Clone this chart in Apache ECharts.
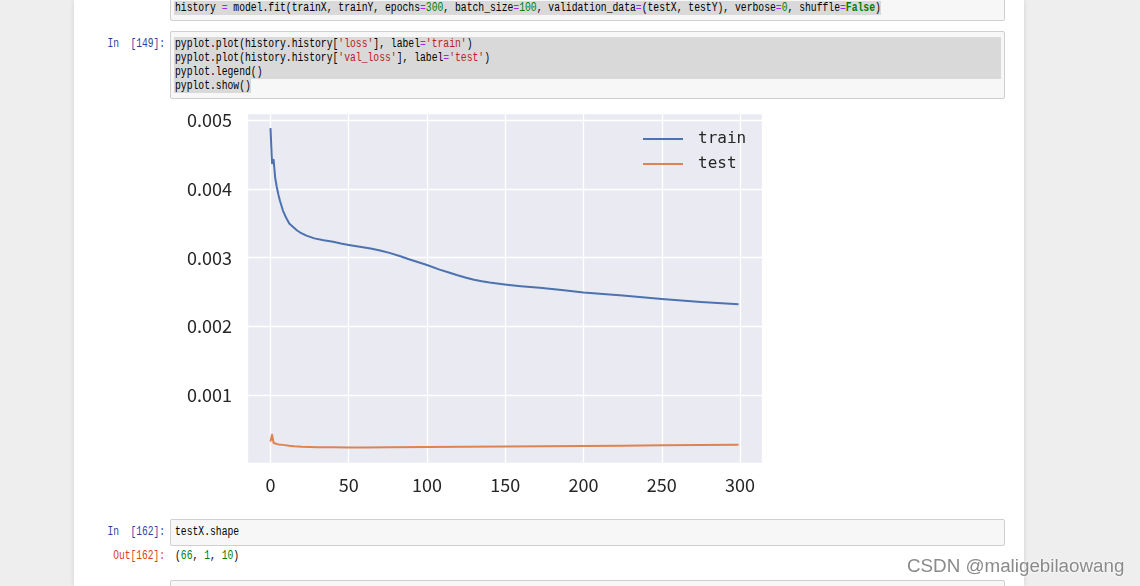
<!DOCTYPE html>
<html>
<head>
<meta charset="utf-8">
<script src="https://cdn.jsdelivr.net/npm/echarts@6/dist/echarts.min.js"></script>
<style>
  html, body { margin:0; padding:0; }
  body { width:1140px; height:586px; overflow:hidden; background:#eeeeee; position:relative; font-family:"Liberation Mono", monospace; }
  .nb { position:absolute; left:74px; top:0; width:950px; height:586px; background:#ffffff; box-shadow:0 0 5px rgba(0,0,0,0.12); }
  .box { position:absolute; left:170px; width:833px; border:1px solid #cfcfcf; background:#f7f7f7; border-radius:2px; }
  .hl { position:absolute; background:#d9d9d9; }
  .code { position:absolute; left:175px; height:14px; line-height:14px; font-size:12px; color:#000; white-space:pre; transform:scaleX(0.81); transform-origin:0 50%; }
  .prompt { position:absolute; width:200px; left:-35px; text-align:right; height:14px; line-height:14px; font-size:12px; white-space:pre; transform:scaleX(0.80); transform-origin:100% 50%; }
  .in { color:#303F9F; }
  .out { color:#D84315; }
  .o { color:#AA22FF; }
  .n { color:#008000; }
  .s { color:#BA2121; }
  .k { color:#008000; font-weight:bold; }
  #chart { position:absolute; left:0; top:0; width:1140px; height:586px; pointer-events:none; }
  .wm { position:absolute; left:907px; top:555px; font-family:"Liberation Sans", Arial, sans-serif; font-size:18.8px; color:#8a8a8a; white-space:pre; text-shadow:0 0 2px #fff, 0 0 2px #fff; }
</style>
</head>
<body>
<div class="nb"></div>

<div class="box" style="top:-30px;height:49px;"></div>
<div class="hl" style="left:174px;top:1px;width:707px;height:14px;"></div>
<div class="code" style="top:1px;">history <span class="o">=</span> model.fit(trainX, trainY, epochs<span class="o">=</span><span class="n">300</span>, batch_size<span class="o">=</span><span class="n">100</span>, validation_data<span class="o">=</span>(testX, testY), verbose<span class="o">=</span><span class="n">0</span>, shuffle<span class="o">=</span><span class="k">False</span>)</div>

<div class="box" style="top:31px;height:66px;"></div>
<div class="hl" style="left:174px;top:37px;width:827px;height:42px;"></div>
<div class="hl" style="left:174px;top:79px;width:77px;height:14px;"></div>
<div class="prompt in" style="top:37px;">In  [149]:</div>
<div class="code" style="top:37px;">pyplot.plot(history.history[<span class="s">'loss'</span>], label<span class="o">=</span><span class="s">'train'</span>)</div>
<div class="code" style="top:51px;">pyplot.plot(history.history[<span class="s">'val_loss'</span>], label<span class="o">=</span><span class="s">'test'</span>)</div>
<div class="code" style="top:65px;">pyplot.legend()</div>
<div class="code" style="top:79px;">pyplot.show()</div>

<div class="box" style="top:519px;height:25px;"></div>
<div class="prompt in" style="top:525px;">In  [162]:</div>
<div class="code" style="top:525px;">testX.shape</div>
<div class="prompt out" style="top:549px;">Out[162]:</div>
<div class="code" style="top:549px;">(<span class="n">66</span>, <span class="n">1</span>, <span class="n">10</span>)</div>

<div class="box" style="top:580px;height:30px;"></div>

<div id="chart"></div>
<div class="wm">CSDN @maligebilaowang</div>

<script>
// ---- data ----
const seriesNames = ['train', 'test'];
const trainEpochs = [0, 1, 2, 3, 4, 5, 6, 8, 10, 12, 15, 17, 19, 23, 28, 34, 40, 45, 50, 57, 64, 70, 76, 83, 88, 94, 100, 108, 114, 119, 125, 130, 135, 140, 146, 151, 160, 172, 186, 200, 225, 250, 275, 299];
const trainLoss = [0.00488, 0.00437, 0.00442, 0.00416, 0.00403, 0.00392, 0.00383, 0.00368, 0.00358, 0.003495, 0.003435, 0.003395, 0.003365, 0.00332, 0.00328, 0.003253, 0.00323, 0.003205, 0.003185, 0.00316, 0.003132, 0.003105, 0.00307, 0.00302, 0.00298, 0.002937, 0.002893, 0.002827, 0.002785, 0.002749, 0.00271, 0.00268, 0.002658, 0.00264, 0.002622, 0.002608, 0.002587, 0.002562, 0.00253, 0.002495, 0.00245, 0.00240, 0.002358, 0.002325];
const testEpochs = [0, 1, 2, 3, 5, 8, 12, 15, 20, 25, 30, 40, 50, 60, 75, 100, 125, 150, 175, 200, 225, 250, 275, 299];
const testLoss = [0.00033, 0.00043, 0.00031, 0.000300, 0.00029, 0.000283, 0.000270, 0.000264, 0.000257, 0.000253, 0.00025, 0.000247, 0.000246, 0.000246, 0.000248, 0.000252, 0.000256, 0.00026, 0.000264, 0.000268, 0.000272, 0.000276, 0.00028, 0.000284];
const xTickLabels = ['0', '50', '100', '150', '200', '250', '300'];
const yTickLabels = ['0.001', '0.002', '0.003', '0.004', '0.005'];

const toPairs = (xs, ys) => xs.map((x, i) => [x, ys[i]]);

const chart = echarts.init(document.getElementById('chart'), null, { renderer: 'canvas' });
const tickFont = { fontFamily: '"Noto Sans CJK SC", "Noto Sans", sans-serif', fontSize: 18, color: '#262626' };

function xFmt(v) {
  const s = String(Math.round(v));
  return (Math.abs(v - Math.round(v)) < 1e-6 && xTickLabels.indexOf(s) >= 0) ? s : '';
}
function yFmt(v) {
  const s = v.toFixed(3);
  return (Math.abs(v - parseFloat(s)) < 1e-9 && yTickLabels.indexOf(s) >= 0) ? s : '';
}

chart.setOption({
  backgroundColor: 'transparent',
  animation: false,
  grid: { left: 247, right: 378, top: 113, bottom: 123, show: true, backgroundColor: '#EAEAF2', borderWidth: 0, containLabel: false },
  legend: {
    data: seriesNames,
    orient: 'vertical',
    left: 643, top: 129, padding: 0,
    icon: 'rect', itemWidth: 40, itemHeight: 2, itemGap: 5,
    textStyle: { fontFamily: '"DejaVu Sans Mono", monospace', fontSize: 16, color: '#262626', lineHeight: 20, padding: [0, 0, 0, 10] }
  },
  xAxis: {
    type: 'value', min: -15, max: 314, splitNumber: 6,
    axisLine: { show: false }, axisTick: { show: false },
    splitLine: { show: true, lineStyle: { color: '#ffffff', width: 1.3 } },
    axisLabel: Object.assign({ margin: 13, formatter: xFmt, showMinLabel: false, showMaxLabel: false }, tickFont)
  },
  yAxis: {
    type: 'value', min: 0.00002, max: 0.0051, splitNumber: 5,
    axisLine: { show: false }, axisTick: { show: false },
    splitLine: { show: true, lineStyle: { color: '#ffffff', width: 1.3 } },
    axisLabel: Object.assign({ margin: 15, formatter: yFmt, showMinLabel: false, showMaxLabel: false }, tickFont)
  },
  series: [
    { name: seriesNames[0], type: 'line', data: toPairs(trainEpochs, trainLoss), showSymbol: false, symbol: 'none', smooth: false, color: '#4C72B0', lineStyle: { width: 2, color: '#4C72B0', join: 'round' } },
    { name: seriesNames[1], type: 'line', data: toPairs(testEpochs, testLoss), showSymbol: false, symbol: 'none', smooth: false, color: '#DD8452', lineStyle: { width: 2, color: '#DD8452', join: 'round' } }
  ]
});
</script>
</body>
</html>
